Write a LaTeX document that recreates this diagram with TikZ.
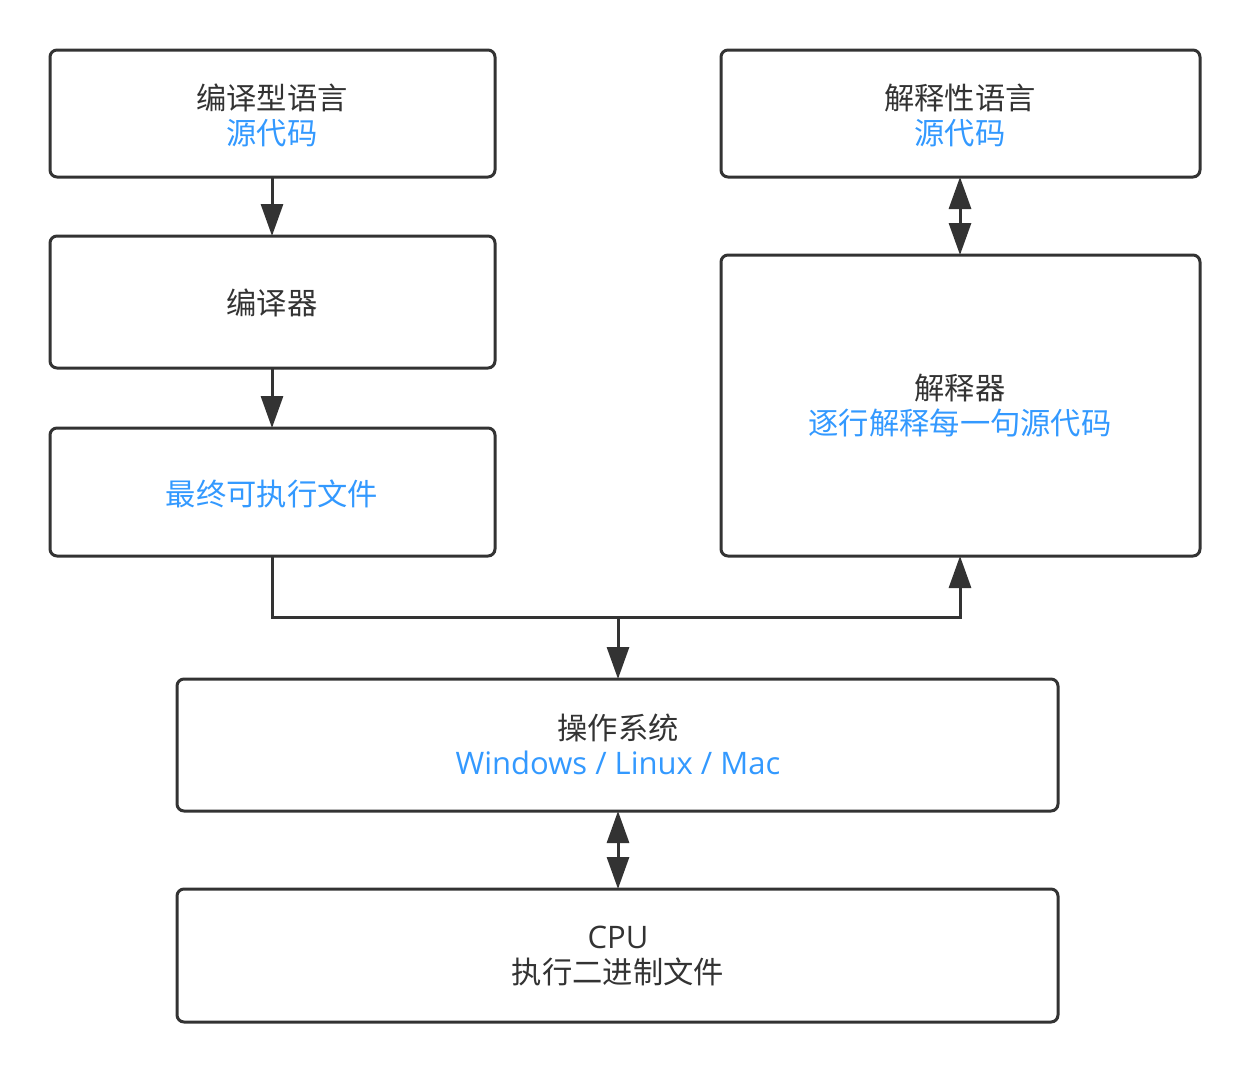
\documentclass[tikz,border=0pt]{standalone}
\usepackage{fontspec}
\setmainfont{Noto Sans CJK SC}
\newfontfamily\latinf{Open Sans}
\usetikzlibrary{arrows.meta}
\definecolor{ink}{HTML}{333333}
\definecolor{blu}{HTML}{3399FF}
\begin{document}
\begin{tikzpicture}[x=1pt,y=-1pt,
  box/.style={draw=ink,line width=3pt,rounded corners=7pt},
  lbl/.style={align=center,text=ink,font=\fontsize{30.3}{35}\selectfont,inner sep=0pt},
  lat/.style={font=\latinf\fontsize{31}{35}\selectfont},
  conn/.style={draw=ink,line width=3pt,-{Triangle[width=22pt,length=32pt]}},
  dconn/.style={draw=ink,line width=3pt,{Triangle[width=22pt,length=32pt]}-{Triangle[width=22pt,length=32pt]}}]
\useasboundingbox (0,0) rectangle (1250,1072);
% boxes
\draw[box] (50,50) rectangle (495,177);
\coordinate (b1b) at (272,177);
\draw[box] (50,236) rectangle (495,368);
\coordinate (b2t) at (272,236); \coordinate (b2b) at (272,368);
\draw[box] (50,428) rectangle (495,556);
\coordinate (b3t) at (272,428); \coordinate (b3b) at (272,556);
\draw[box] (721,50) rectangle (1200,177);
\coordinate (b4b) at (960,177);
\draw[box] (721,255) rectangle (1200,556);
\coordinate (b5t) at (960,255); \coordinate (b5b) at (960,556);
\draw[box] (177,679) rectangle (1058,811);
\coordinate (b6t) at (618,679); \coordinate (b6b) at (618,811);
\draw[box] (177,889) rectangle (1058,1022);
\coordinate (b7t) at (618,889);
% texts
\node[lbl] (t1) at (272,115) {编译型语言\\\textcolor{blu}{源代码}};
\node[lbl] (t2) at (272,303) {编译器};
\node[lbl] (t3) at (272,494) {\textcolor{blu}{最终可执行文件}};
\node[lbl] (t4) at (960,115) {解释性语言\\\textcolor{blu}{源代码}};
\node[lbl] (t5) at (960,406) {解释器\\\textcolor{blu}{逐行解释每一句源代码}};
\node[lbl] (t6) at (618,744) {操作系统\\\textcolor{blu}{\latinf\fontsize{31}{35}\selectfont Windows / Linux / Mac}};
\node[lbl] (t7) at (618,956) {{\latinf\fontsize{31}{35}\selectfont CPU}\\执行二进制文件};
% connectors
\coordinate (j) at (618,617);
\draw[conn] (b1b) -- (b2t);
\draw[conn] (b2b) -- (b3t);
\draw[dconn] (b4b) -- (b5t);
\draw[dconn] (b6b) -- (b7t);
\draw[conn] (b3b) |- (j) -| (b5b);
\draw[conn] (j) -- (b6t);
\end{tikzpicture}
\end{document}
